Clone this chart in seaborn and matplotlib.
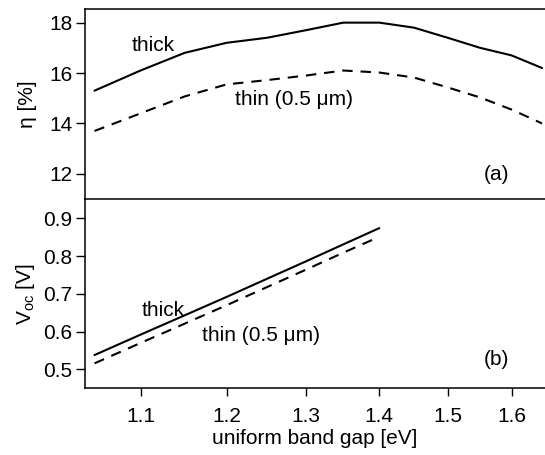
import numpy as np
import pandas as pd
import matplotlib
matplotlib.use("Agg")
import matplotlib.pyplot as plt
from matplotlib.ticker import FixedLocator, FixedFormatter, NullLocator
import seaborn as sns

# ---- data ----
gap_eta = [1.05, 1.10, 1.15, 1.20, 1.25, 1.30, 1.35, 1.40, 1.45, 1.50, 1.55, 1.60, 1.65]
eta_thick = [15.3, 16.1, 16.8, 17.2, 17.4, 17.7, 18.0, 18.0, 17.8, 17.4, 17.0, 16.7, 16.2]
eta_thin = [13.7, 14.4, 15.07, 15.55, 15.72, 15.9, 16.1, 16.02, 15.82, 15.43, 15.03, 14.55, 14.0]

gap_voc = [1.05, 1.10, 1.15, 1.20, 1.25, 1.30, 1.35, 1.40]
voc_thick = [0.538, 0.592, 0.643, 0.692, 0.740, 0.786, 0.831, 0.874]
voc_thin = [0.516, 0.570, 0.621, 0.670, 0.718, 0.764, 0.809, 0.851]

xticks = [1.1, 1.2, 1.3, 1.4, 1.5, 1.6]
xtick_labels = ["1.1", "1.2", "1.3", "1.4", "1.5", "1.6"]
eta_ticks = [12, 14, 16, 18]
voc_ticks = [0.5, 0.6, 0.7, 0.8, 0.9]

sns.set_style("ticks")
plt.rcParams["font.family"] = ["Liberation Sans", "DejaVu Sans"]
plt.rcParams["mathtext.fontset"] = "custom"
plt.rcParams["mathtext.rm"] = "Liberation Sans"
plt.rcParams["mathtext.it"] = "Liberation Sans:italic"
for k in ("text.color", "axes.labelcolor", "xtick.color", "ytick.color", "axes.edgecolor"):
    plt.rcParams[k] = "black"
FS = 15

fig = plt.figure(figsize=(5.45, 4.55), dpi=100)
ax1 = fig.add_axes([0.156, 0.5626, 0.844, 0.417])
ax2 = fig.add_axes([0.156, 0.1466, 0.844, 0.416])

df_eta = pd.DataFrame({
    "gap": gap_eta * 2,
    "eta": eta_thick + eta_thin,
    "kind": ["thick"] * len(gap_eta) + ["thin"] * len(gap_eta),
})
df_voc = pd.DataFrame({
    "gap": gap_voc * 2,
    "voc": voc_thick + voc_thin,
    "kind": ["thick"] * len(gap_voc) + ["thin"] * len(gap_voc),
})

dash_styles = {"thick": "", "thin": (5.0, 3.8)}
sns.lineplot(data=df_eta, x="gap", y="eta", style="kind", dashes=dash_styles,
             color="black", linewidth=1.5, ax=ax1, legend=False)
sns.lineplot(data=df_voc, x="gap", y="voc", style="kind", dashes=dash_styles,
             color="black", linewidth=1.5, ax=ax2, legend=False)

for ax in (ax1, ax2):
    ax.set_xscale("log")
    ax.set_xlim(1.040, 1.655)
    ax.xaxis.set_major_locator(FixedLocator(xticks))
    ax.xaxis.set_major_formatter(FixedFormatter(xtick_labels))
    ax.xaxis.set_minor_locator(NullLocator())
    ax.yaxis.set_minor_locator(NullLocator())
    ax.spines["right"].set_visible(False)
    for s in ("left", "top", "bottom"):
        ax.spines[s].set_linewidth(1.1)
        ax.spines[s].set_color("black")
    ax.tick_params(axis="both", labelsize=FS, width=1.0, color="black",
                   direction="out")
    ax.tick_params(axis="y", pad=2.5, length=6.5)
    ax.tick_params(axis="x", pad=8, length=5.5)

# top panel
ax1.set_ylim(11.0, 18.53)
ax1.set_yticks(eta_ticks)
ax1.set_yticklabels([str(t) for t in eta_ticks])
ax1.spines["bottom"].set_visible(False)
ax1.tick_params(axis="x", bottom=False, labelbottom=False)
ax1.set_xlabel("")
ax1.set_ylabel("η [%]", fontsize=FS)
ax1.yaxis.set_label_coords(-0.105, 0.5)
ax1.text(1.09, 17.09, "thick", fontsize=FS, ha="left", va="center")
ax1.text(1.21, 14.95, "thin (0.5 μm)", fontsize=FS, ha="left", va="center")
ax1.text(1.556, 11.97, "(a)", fontsize=FS, ha="left", va="center")

# bottom panel
ax2.set_ylim(0.45, 0.951)
ax2.set_yticks(voc_ticks)
ax2.set_yticklabels([f"{t:.1f}" for t in voc_ticks])
ax2.set_xlabel("uniform band gap [eV]", fontsize=FS, labelpad=2)
ax2.set_ylabel(r"V$_{\mathrm{oc}}$ [V]", fontsize=FS)
ax2.yaxis.set_label_coords(-0.105, 0.5)
ax2.text(1.101, 0.657, "thick", fontsize=FS, ha="left", va="center")
ax2.text(1.17, 0.591, "thin (0.5 μm)", fontsize=FS, ha="left", va="center")
ax2.text(1.556, 0.527, "(b)", fontsize=FS, ha="left", va="center")

fig.savefig("out.png", dpi=100)
